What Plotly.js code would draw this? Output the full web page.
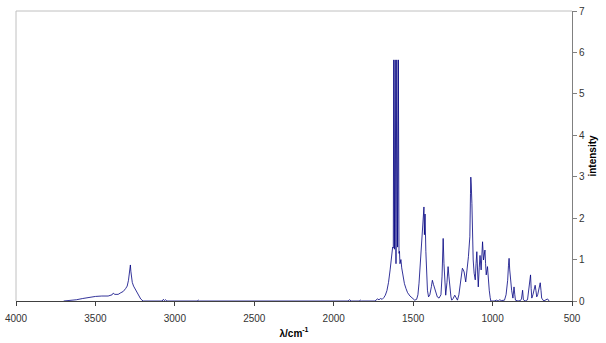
<!DOCTYPE html>
<html>
<head>
<meta charset="utf-8">
<script src="https://cdn.plot.ly/plotly-3.0.1.min.js"></script>
<style>html,body{margin:0;padding:0;background:#fff;}#chart{width:606px;height:343px;}</style>
</head>
<body>
<div id="chart"></div>
<script>
// wavenumber (cm^-1)
var wavenumber = [
  3700, 3660, 3620, 3580, 3540, 3500, 3460, 3420, 3395, 3388,
  3378, 3357, 3340, 3325, 3310, 3300, 3292, 3287, 3283, 3280,
  3277, 3274, 3268, 3260, 3248, 3237, 3225, 3215, 3200, 3080,
  3072, 3066, 3058, 3050, 2860, 2852, 2845, 1910, 1900, 1890,
  1840, 1832, 1825, 1740, 1725, 1715, 1705, 1695, 1685, 1675,
  1665, 1655, 1645, 1635, 1629, 1625, 1622, 1618, 1613, 1608,
  1603, 1598, 1593, 1589, 1586, 1583, 1580, 1577, 1572, 1565,
  1555, 1545, 1535, 1520, 1505, 1490, 1478, 1470, 1463, 1455,
  1447, 1440, 1432, 1429, 1425, 1420, 1415, 1410, 1403, 1395,
  1385, 1379, 1372, 1365, 1358, 1348, 1337, 1325, 1318, 1311,
  1306, 1302, 1295, 1287, 1280, 1275, 1270, 1262, 1257, 1248,
  1238, 1229, 1221, 1212, 1205, 1197, 1190, 1184, 1179, 1169,
  1160, 1152, 1146, 1143, 1139, 1137, 1134, 1130, 1126, 1122,
  1116, 1109, 1104, 1099, 1094, 1090, 1084, 1079, 1072, 1067,
  1063, 1057, 1048, 1044, 1040, 1032, 1027, 1021, 1015, 1011,
  990, 975, 965, 955, 945, 925, 915, 905, 900, 896,
  892, 887, 880, 872, 865, 860, 856, 840, 825, 818,
  811, 806, 795, 780, 774, 770, 766, 761, 757, 753,
  746, 740, 732, 727, 722, 716, 711, 705, 700, 695,
  691, 678, 665, 654, 644
];
// intensity
var intensity = [
  0, 0.01, 0.03, 0.06, 0.09, 0.11, 0.12, 0.12, 0.15, 0.19,
  0.16, 0.16, 0.2, 0.23, 0.3, 0.36, 0.5, 0.62, 0.78, 0.87,
  0.72, 0.58, 0.45, 0.36, 0.27, 0.2, 0.12, 0.05, 0, 0,
  0.04, 0.01, 0.03, 0, 0, 0.02, 0, 0, 0.03, 0,
  0, 0.02, 0, 0, 0.05, 0.03, 0.06, 0.04, 0.08, 0.14,
  0.25, 0.45, 0.75, 1.1, 1.3, 1.28, 5.82, 1.25, 5.82, 0.9,
  5.82, 1.3, 5.82, 1.15, 1.2, 0.9, 0.95, 1.0, 0.8, 0.6,
  0.42, 0.3, 0.2, 0.12, 0.06, 0.02, 0.04, 0.15, 0.43, 0.9,
  1.5, 1.9, 2.27, 1.6, 2.1, 1.2, 0.55, 0.26, 0.1, 0.15,
  0.35, 0.5, 0.4, 0.3, 0.19, 0.1, 0.07, 0.15, 0.6, 1.51,
  0.9, 0.58, 0.14, 0.45, 0.83, 0.6, 0.34, 0.1, 0.02, 0.06,
  0.14, 0.06, 0.02, 0.15, 0.34, 0.6, 0.79, 0.75, 0.7, 0.46,
  0.75, 1.07, 1.4, 1.55, 2.6, 2.99, 2.8, 2.35, 1.5, 0.99,
  0.67, 0.51, 0.9, 1.19, 0.7, 0.34, 0.8, 1.1, 0.75, 1.1,
  1.43, 0.99, 1.23, 0.9, 0.63, 0.83, 0.5, 0.26, 0.08, 0,
  0, 0.02, 0, 0.03, 0.01, 0.02, 0.15, 0.5, 0.85, 1.03,
  0.75, 0.5, 0.26, 0.07, 0.34, 0.15, 0.02, 0, 0.01, 0.05,
  0.26, 0.03, 0, 0.03, 0.2, 0.34, 0.5, 0.63, 0.3, 0.07,
  0.15, 0.26, 0.38, 0.25, 0.1, 0.15, 0.26, 0.38, 0.44, 0.25,
  0.07, 0, 0.03, 0.05, 0
];
var xTickVals = [4000, 3500, 3000, 2500, 2000, 1500, 1000, 500];
var yTickVals = [0, 1, 2, 3, 4, 5, 6, 7];

var trace = {
  x: wavenumber,
  y: intensity,
  type: 'scatter',
  mode: 'lines',
  line: {color: '#000080', width: 0.8},
  hoverinfo: 'skip'
};

var layout = {
  width: 606,
  height: 343,
  margin: {l: 16, r: 34, t: 11, b: 42, pad: 0},
  paper_bgcolor: '#ffffff',
  plot_bgcolor: '#ffffff',
  showlegend: false,
  font: {family: 'Liberation Sans, Arial, sans-serif', size: 10, color: '#333333'},
  xaxis: {
    range: [4000, 500],
    tickvals: xTickVals,
    ticktext: xTickVals.map(String),
    ticks: 'outside',
    ticklen: 4,
    tickcolor: '#404040',
    ticklabelstandoff: 4,
    showgrid: false,
    zeroline: false,
    showline: true,
    linecolor: '#404040',
    linewidth: 1,
    tickfont: {size: 10, color: '#333333'},
    title: {text: 'λ/cm<sup>-1</sup>', font: {size: 10, color: '#000000', weight: 'bold'}, standoff: 6}
  },
  yaxis: {
    range: [0, 7],
    side: 'right',
    tickvals: yTickVals,
    ticktext: yTickVals.map(String),
    ticks: 'outside',
    ticklen: 4,
    tickcolor: '#808080',
    showgrid: false,
    zeroline: false,
    showline: true,
    linecolor: '#808080',
    linewidth: 1,
    tickfont: {size: 10, color: '#333333'},
    title: {text: 'intensity', font: {size: 10, color: '#000000', weight: 'bold'}, standoff: 4}
  },
  shapes: [
    {type: 'line', xref: 'paper', yref: 'paper', x0: 0, x1: 0, y0: 0, y1: 1, line: {color: '#c0c0c0', width: 1}},
    {type: 'line', xref: 'paper', yref: 'paper', x0: 0, x1: 1, y0: 1, y1: 1, line: {color: '#c0c0c0', width: 1}}
  ]
};

Plotly.newPlot('chart', [trace], layout, {displayModeBar: false, staticPlot: true});
</script>
</body>
</html>
